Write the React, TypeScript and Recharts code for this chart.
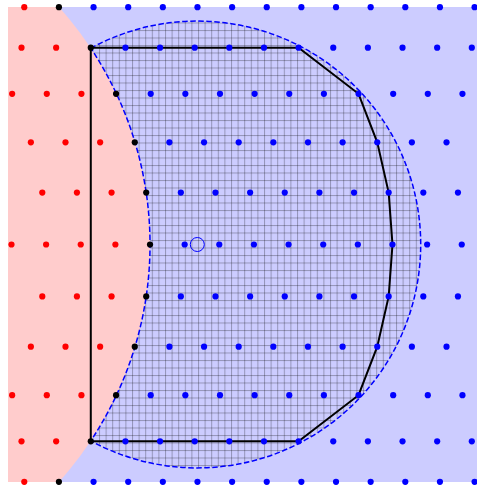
import React from 'react';
import {
    ComposedChart,
    XAxis,
    YAxis,
    Scatter,
    ReferenceArea,
    ReferenceDot,
} from 'recharts';

// lattice rows (top to bottom), in lattice units
const rowY = [6.85, 5.68, 4.35, 2.95, 1.5, 0, -1.5, -2.95, -4.35, -5.68, -6.85];

// the point of each row that sits on the red circle
const blackX = [-2.63, -1.71, -0.98, -0.44, -0.11, 0, -0.11, -0.44, -0.98, -1.71, -2.63];

// points inside the red disk
const redX = [
    [-3.63],
    [-2.71, -3.71],
    [-1.98, -2.98, -3.98],
    [-1.44, -2.44, -3.44],
    [-1.11, -2.11, -3.11],
    [-1, -2, -3, -4],
    [-1.11, -2.11, -3.11],
    [-1.44, -2.44, -3.44],
    [-1.98, -2.98, -3.98],
    [-2.71, -3.71],
    [-3.63],
];

// points outside the red disk
const blueX = [
    [-1.63, -0.63, 0.37, 1.37, 2.37, 3.37, 4.37, 5.37, 6.37, 7.37, 8.37, 9.37],
    [-0.71, 0.29, 1.29, 2.29, 3.29, 4.29, 5.29, 6.29, 7.29, 8.29, 9.29],
    [0.02, 1.02, 2.02, 3.02, 4.02, 5.02, 6.02, 7.02, 8.02, 9.02],
    [0.56, 1.56, 2.56, 3.56, 4.56, 5.56, 6.56, 7.56, 8.56],
    [0.89, 1.89, 2.89, 3.89, 4.89, 5.89, 6.89, 7.89, 8.89],
    [1, 2, 3, 4, 5, 6, 7, 8, 9],
    [0.89, 1.89, 2.89, 3.89, 4.89, 5.89, 6.89, 7.89, 8.89],
    [0.56, 1.56, 2.56, 3.56, 4.56, 5.56, 6.56, 7.56, 8.56],
    [0.02, 1.02, 2.02, 3.02, 4.02, 5.02, 6.02, 7.02, 8.02, 9.02],
    [-0.71, 0.29, 1.29, 2.29, 3.29, 4.29, 5.29, 6.29, 7.29, 8.29, 9.29],
    [-1.63, -0.63, 0.37, 1.37, 2.37, 3.37, 4.37, 5.37, 6.37, 7.37, 8.37, 9.37],
];

// convex hull of the points in the lens (closed)
const hullX = [-1.71, 4.29, 6.02, 6.56, 6.89, 7, 6.89, 6.56, 6.02, 4.29, -1.71, -1.71];
const hullY = [5.68, 5.68, 4.35, 2.95, 1.5, 0, -1.5, -2.95, -4.35, -5.68, -5.68, 5.68];

// circles: [centre x, centre y, radius]
const bigCircle = [1.365, 0, 6.45];
const redCircle = [-10.25, 0, 10.25];

const X_MIN = -4.1;
const X_MAX = 9.44;
const Y_MIN = -6.855;
const Y_MAX = 6.855;

const W = 477;
const H = 485;
const MARGIN = { top: 7, right: 0, bottom: 3, left: 8 };
const PLOT_W = W - MARGIN.left - MARGIN.right;
const PLOT_H = H - MARGIN.top - MARGIN.bottom;
const K = PLOT_W / (X_MAX - X_MIN); // pixels per unit

const toPoints = (rows: number[][]) =>
    rows.flatMap((xs, i) => xs.map((x) => ({ x, y: rowY[i] })));

const redPts = toPoints(redX);
const bluePts = toPoints(blueX);
const blackPts = blackX.map((x, i) => ({ x, y: rowY[i] }));
const hull = hullX.map((x, i) => ({ x, y: hullY[i] }));

const dot = (color: string) => (p: any) => (
    <circle cx={p.cx} cy={p.cy} r={3.1} fill={color} />
);

const RedDisk = (p: any) => (
    <circle
        cx={p.cx}
        cy={p.cy}
        r={redCircle[2] * K}
        fill="#ffcccc"
        clipPath="url(#plot-clip)"
    />
);

// big circle minus the red disk
const Lens = (p: any) => {
    const R = bigCircle[2] * K;
    const r = redCircle[2] * K;
    const d = (bigCircle[0] - redCircle[0]) * K;
    const a = (r * r - R * R + d * d) / (2 * d);
    const h = Math.sqrt(r * r - a * a);
    const px = p.cx - d + a;
    const top = p.cy - h;
    const bot = p.cy + h;
    const path = `M${px},${top} A${R},${R} 0 1 1 ${px},${bot} A${r},${r} 0 0 0 ${px},${top} Z`;
    return (
        <g>
            <path d={path} fill="url(#hatch)" stroke="none" />
            <path
                d={path}
                fill="none"
                stroke="#0000ff"
                strokeWidth={1.5}
                strokeDasharray="5.5 2.5"
            />
        </g>
    );
};

export default function App() {
    return (
        <div style={{ position: 'absolute', left: 0, top: 0 }}>
            <ComposedChart width={W} height={H} margin={MARGIN}>
                <defs>
                    <clipPath id="plot-clip">
                        <rect x={MARGIN.left} y={MARGIN.top} width={PLOT_W} height={PLOT_H} />
                    </clipPath>
                    <pattern id="hatch" patternUnits="userSpaceOnUse" width={6.6} height={7.5}>
                        <rect x={0} y={0} width={1} height={7.5} fill="#000" fillOpacity={0.27} />
                        <rect x={0} y={0} width={6.6} height={1} fill="#000" fillOpacity={0.27} />
                    </pattern>
                </defs>
                <XAxis type="number" dataKey="x" domain={[X_MIN, X_MAX]} hide />
                <YAxis type="number" dataKey="y" domain={[Y_MIN, Y_MAX]} hide />
                <ReferenceArea
                    x1={X_MIN}
                    x2={X_MAX}
                    y1={Y_MIN}
                    y2={Y_MAX}
                    fill="#ccccff"
                    fillOpacity={1}
                    stroke="none"
                />
                <ReferenceDot
                    x={redCircle[0]}
                    y={redCircle[1]}
                    ifOverflow="visible"
                    shape={RedDisk}
                />
                <ReferenceDot
                    x={bigCircle[0]}
                    y={bigCircle[1]}
                    ifOverflow="visible"
                    shape={Lens}
                />
                <Scatter
                    data={hull}
                    fill="#000"
                    line={{ stroke: '#000', strokeWidth: 2 }}
                    shape={() => <g />}
                    isAnimationActive={false}
                />
                <Scatter data={redPts} shape={dot('#ff0000')} isAnimationActive={false} />
                <Scatter data={bluePts} shape={dot('#0000ff')} isAnimationActive={false} />
                <Scatter data={blackPts} shape={dot('#000000')} isAnimationActive={false} />
                <ReferenceDot
                    x={bigCircle[0]}
                    y={bigCircle[1]}
                    r={7}
                    fill="none"
                    stroke="#0000ff"
                    strokeWidth={1}
                    ifOverflow="visible"
                />
            </ComposedChart>
        </div>
    );
}
